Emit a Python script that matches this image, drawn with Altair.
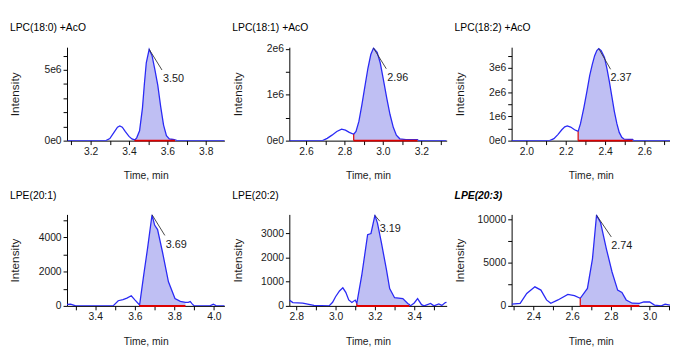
import altair as alt
import pandas as pd

# ---------------- data ----------------
TITLES = ["LPC(18:0) +AcO", "LPC(18:1) +AcO", "LPC(18:2) +AcO",
          "LPE(20:1)", "LPE(20:2)", "LPE(20:3)"]

# Panel 1  LPC(18:0) +AcO
P1_T = [3.08, 3.28, 3.30, 3.32, 3.34, 3.352, 3.365, 3.38, 3.40, 3.415, 3.43,
        3.44, 3.455, 3.47, 3.48, 3.49, 3.505, 3.52, 3.535, 3.55, 3.565, 3.58,
        3.595, 3.61, 3.63, 3.64, 3.65, 3.90]
P1_I = [0, 0, 0.15e6, 0.55e6, 0.95e6, 1.04e6, 0.95e6, 0.65e6, 0.3e6, 0.12e6, 0.05e6,
        0.2e6, 0.7e6, 2.3e6, 4.0e6, 5.5e6, 6.45e6, 6.0e6, 5.0e6, 3.9e6, 2.4e6, 1.1e6,
        0.35e6, 0.12e6, 0.08e6, 0.06e6, 0, 0]

# Panel 2  LPC(18:1) +AcO
P2_T = [2.51, 2.686, 2.71, 2.735, 2.76, 2.785, 2.805, 2.825, 2.848, 2.86, 2.875,
        2.891, 2.905, 2.922, 2.937, 2.951, 2.97, 2.986, 3.003, 3.02, 3.037, 3.054,
        3.07, 3.088, 3.12, 3.18, 3.185, 3.33]
P2_I = [0, 0, 0.05e6, 0.12e6, 0.2e6, 0.25e6, 0.23e6, 0.18e6, 0.14e6, 0.2e6, 0.42e6,
        0.79e6, 1.15e6, 1.58e6, 1.88e6, 2.02e6, 1.93e6, 1.7e6, 1.32e6, 0.93e6, 0.57e6, 0.29e6,
        0.12e6, 0.04e6, 0.02e6, 0.02e6, 0, 0]

# Panel 3  LPC(18:2) +AcO
P3_T = [1.925, 2.118, 2.14, 2.16, 2.18, 2.195, 2.208, 2.225, 2.245, 2.263, 2.275,
        2.292, 2.307, 2.322, 2.335, 2.347, 2.358, 2.368, 2.38, 2.397, 2.41, 2.422,
        2.435, 2.447, 2.46, 2.472, 2.485, 2.497, 2.52, 2.54, 2.545, 2.73]
P3_I = [0, 0, 0.08e6, 0.25e6, 0.45e6, 0.57e6, 0.61e6, 0.56e6, 0.45e6, 0.38e6, 0.7e6,
        1.35e6, 2.0e6, 2.7e6, 3.15e6, 3.51e6, 3.72e6, 3.8e6, 3.72e6, 3.44e6, 2.95e6, 2.43e6,
        1.8e6, 1.21e6, 0.7e6, 0.34e6, 0.14e6, 0.06e6, 0.05e6, 0.05e6, 0, 0]

# Panel 4  LPE(20:1)
P4_T = [3.24, 3.255, 3.275, 3.29, 3.30, 3.49, 3.516, 3.54, 3.56, 3.582, 3.60,
        3.624, 3.645, 3.665, 3.687, 3.70, 3.715, 3.74, 3.77, 3.803, 3.83, 3.856,
        3.87, 3.88, 3.89, 3.90, 3.98, 3.997, 4.01, 4.07]
P4_I = [0, 80, 100, 40, 0, 0, 300, 360, 450, 590, 350,
        50, 1800, 3400, 5300, 4700, 4440, 3120, 1400, 430, 260, 200,
        210, 250, 120, 0, 0, 100, 20, 0]

# Panel 5  LPE(20:2)
P5_T = [2.765, 2.783, 2.833, 2.89, 2.967, 2.985, 3.0, 3.02, 3.037, 3.052, 3.067,
        3.083, 3.1, 3.108, 3.133, 3.163, 3.18, 3.2, 3.213, 3.233, 3.258, 3.275,
        3.3, 3.342, 3.367, 3.375, 3.38, 3.40, 3.417, 3.437, 3.45, 3.483, 3.50,
        3.525, 3.54, 3.558, 3.565]
P5_I = [240, 140, 110, 20, 0, 150, 380, 620, 750, 560, 245,
        140, 240, 100, 1260, 2950, 3000, 3750, 3430, 2620, 1530, 720,
        340, 300, 100, 60, 0, 120, 300, 50, 0, 100, 0,
        80, 20, 140, 150]

# Panel 6  LPE(20:3)
P6_T = [2.288, 2.332, 2.366, 2.408, 2.439, 2.468, 2.49, 2.527, 2.578, 2.612, 2.642,
        2.679, 2.705, 2.726, 2.747, 2.777, 2.806, 2.835, 2.857, 2.879, 2.91, 2.947,
        2.97, 3.0, 3.025, 3.06, 3.08, 3.105]
P6_I = [200, 300, 1450, 2210, 1830, 690, 310, 690, 1340, 1190, 880,
        2020, 5450, 10500, 9630, 6590, 3930, 1830, 1560, 690, 310, 300,
        450, 450, 100, 0, 200, 100]

TIMES = [P1_T, P2_T, P3_T, P4_T, P5_T, P6_T]
INTS = [P1_I, P2_I, P3_I, P4_I, P5_I, P6_I]

# integrated-peak ranges (start, end)
SHADE = [(3.43, 3.64), (2.848, 3.18), (2.263, 2.54),
         (3.624, 3.856), (3.108, 3.375), (2.642, 2.947)]

# apex annotations
PEAK_T = [3.505, 2.951, 2.368, 3.687, 3.2, 2.726]
PEAK_I = [6.45e6, 2.02e6, 3.8e6, 5300, 3750, 10500]
PEAK_LABEL = ["3.50", "2.96", "2.37", "3.69", "3.19", "2.74"]

# axis domains
XDOM = [(3.077, 3.897), (2.513, 3.332), (1.925, 2.73),
        (3.257, 4.053), (2.765, 3.565), (2.288, 3.105)]
YDOM = [(0, 6.6e6), (0, 2.04e6), (0, 3.86e6),
        (0, 5320), (0, 3790), (0, 10600)]

# tick values and labelled ticks
XTICKS = [[3.1, 3.2, 3.3, 3.4, 3.5, 3.6, 3.7, 3.8],
          [2.6, 2.7, 2.8, 2.9, 3.0, 3.1, 3.2, 3.3],
          [2.0, 2.1, 2.2, 2.3, 2.4, 2.5, 2.6, 2.7],
          [3.3, 3.4, 3.5, 3.6, 3.7, 3.8, 3.9, 4.0],
          [2.8, 2.9, 3.0, 3.1, 3.2, 3.3, 3.4, 3.5],
          [2.3, 2.4, 2.5, 2.6, 2.7, 2.8, 2.9, 3.0, 3.1]]
YTICKS = [[0, 1e6, 2e6, 3e6, 4e6, 5e6, 6e6],
          [0, 0.5e6, 1e6, 1.5e6, 2e6],
          [0, 0.5e6, 1e6, 1.5e6, 2e6, 2.5e6, 3e6, 3.5e6],
          [0, 1000, 2000, 3000, 4000, 5000],
          [0, 1000, 2000, 3000],
          [0, 2500, 5000, 7500, 10000]]
YLABELLED = [[0, 5e6], [0, 1e6, 2e6], [0, 1e6, 2e6, 3e6],
             [0, 2000, 4000], [0, 1000, 2000, 3000], [0, 5000, 10000]]
SCI = [True, True, True, False, False, False]

# ---------------- styling ----------------
FONT = "Liberation Sans, Arial, sans-serif"
BLUE = "#2a2af5"
FILL = "#bfbff3"
RED = "#dd0000"
INK = "#1a1a1a"
W = [160, 160, 161, 160, 160, 161]
H = [95, 95, 95, 93, 93, 93]
TPAD = [14, 14, 14, 15, 15, 15]
LEAD = [(13, 21), (13, 21), (12, 21), (13, 21), (5, 6), (15, 22)]
TXT = [(14, 30), (14, 30), (12, 30), (14, 31), (5, 14), (15, 31)]


def panel(k):
    df = pd.DataFrame({"t": TIMES[k], "I": INTS[k]})
    s, e = SHADE[k]
    shade_df = df[(df.t >= s - 1e-9) & (df.t <= e + 1e-9)]
    i_start = float(shade_df.I.iloc[0])

    lab = "[" + ",".join(str(int(v)) for v in YLABELLED[k]) + "]"
    if SCI[k]:
        yexpr = ("indexof(" + lab + ", datum.value) >= 0 ? (datum.value == 0 ? '0e0' : "
                 "format(datum.value/1000000, 'd') + 'e6') : ''")
    else:
        yexpr = "indexof(" + lab + ", datum.value) >= 0 ? format(datum.value, 'd') : ''"
    xexpr = ("abs(datum.value*5 - round(datum.value*5)) < 0.001 ? "
             "format(datum.value, '.1f') : ''")

    X = alt.X("t:Q",
              scale=alt.Scale(domain=list(XDOM[k]), nice=False, zero=False),
              axis=alt.Axis(values=XTICKS[k], labelExpr=xexpr, title="Time, min",
                            grid=False, tickSize=4, labelPadding=2,
                            labelOverlap=False, labelFlush=False,
                            labelFont=FONT, labelFontSize=10.5, labelColor=INK,
                            titleFont=FONT, titleFontSize=10.5, titleFontWeight="normal",
                            titleColor=INK, titlePadding=TPAD[k],
                            domainColor="#000", tickColor="#000"))
    Y = alt.Y("I:Q",
              scale=alt.Scale(domain=list(YDOM[k]), nice=False, zero=False),
              axis=alt.Axis(values=YTICKS[k], labelExpr=yexpr, title="Intensity",
                            grid=False, tickSize=4, labelPadding=2,
                            labelOverlap=False, labelFlush=False,
                            labelFont=FONT, labelFontSize=10.5, labelColor=INK,
                            titleFont=FONT, titleFontSize=12, titleFontWeight="normal",
                            titleColor=INK, titleX=-53, titleBaseline="middle",
                            domainColor="#000", tickColor="#000"))

    area = alt.Chart(shade_df).mark_area(color=FILL, opacity=1, clip=True).encode(x=X, y=Y)
    line = alt.Chart(df).mark_line(color=BLUE, strokeWidth=1.3, clip=True).encode(x=X, y=Y)
    red_h = alt.Chart(pd.DataFrame({"t": [s], "t2": [e], "I": [0]})).mark_rule(
        color=RED, strokeWidth=2).encode(x=X, x2="t2:Q", y=Y)
    red_v = alt.Chart(pd.DataFrame({"t": [s], "I": [0], "I2": [i_start]})).mark_rule(
        color=RED, strokeWidth=1.2).encode(x=X, y=Y, y2="I2:Q")
    pk = pd.DataFrame({"t": [PEAK_T[k]], "I": [PEAK_I[k]], "label": [PEAK_LABEL[k]]})
    lead = alt.Chart(pk).mark_rule(color="#333333", strokeWidth=0.9,
                                   x2Offset=LEAD[k][0], y2Offset=LEAD[k][1]).encode(
        x=X, y=Y, x2="t:Q", y2="I:Q")
    text = alt.Chart(pk).mark_text(align="left", baseline="middle", dx=TXT[k][0], dy=TXT[k][1],
                                   font=FONT, fontSize=11, color=INK).encode(
        x=X, y=Y, text="label:N")

    last = (k == 5)
    ttl = alt.Chart(pd.DataFrame({"title": [TITLES[k]]})).mark_text(
        align="left", baseline="middle", font=FONT, fontSize=10.5,
        fontWeight="bold" if last else "normal",
        fontStyle="italic" if last else "normal", color="#000").encode(
        x=alt.value(-58), y=alt.value(-19), text="title:N")
    return alt.layer(area, line, red_h, red_v, lead, text, ttl).properties(
        width=W[k], height=H[k])


row1 = alt.hconcat(panel(0), panel(1), panel(2), spacing=6)
row2 = alt.hconcat(panel(3), panel(4), panel(5), spacing=6)
chart = alt.vconcat(row1, row2, spacing=10).properties(
    padding={"left": 0, "top": 13, "right": 0, "bottom": 0},
    background="white",
).configure_view(stroke=None)

chart.save("out.html", embed_options={"renderer": "svg", "actions": False})
